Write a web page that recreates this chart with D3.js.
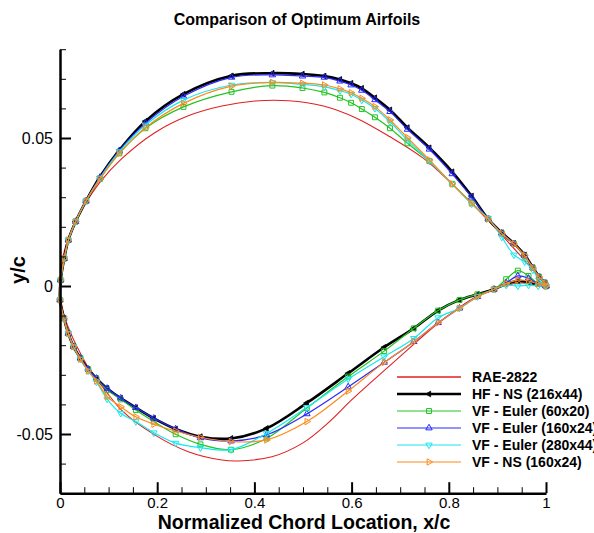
<!DOCTYPE html>
<html><head><meta charset="utf-8">
<script src="https://cdn.jsdelivr.net/npm/d3@7"></script>
<style>
body{margin:0;background:#fff}
svg{display:block}
text{font-family:"Liberation Sans",Arial,Helvetica,sans-serif;fill:#000}
</style></head>
<body><svg id="c" width="594" height="533"></svg>
<script>
// ---------- data ----------
const xUpper = [0.0014,0.0088,0.0171,0.0323,0.0535,0.0823,0.122,0.176,0.254,0.353,0.437,0.499,0.544,0.576,0.599,0.621,0.648,0.679,0.715,0.760,0.807,0.847,0.881,0.909,0.934,0.956,0.973,0.986,0.998,1.0];
const xLower = [0.0,0.008,0.017,0.028,0.042,0.058,0.075,0.097,0.125,0.156,0.193,0.238,0.289,0.352,0.425,0.508,0.593,0.667,0.728,0.778,0.822,0.859,0.893,0.918,0.942,0.964,0.984,1.0];

const hfUpper   = [0.0020,0.0093,0.0155,0.0218,0.0287,0.0369,0.0459,0.0557,0.0648,0.0710,0.0719,0.0716,0.0709,0.0698,0.0685,0.0668,0.0636,0.0595,0.0535,0.0467,0.0386,0.0304,0.0227,0.0180,0.0144,0.0105,0.0062,0.0031,0.0011,0];
const hfLower   = [-0.0047,-0.0109,-0.0160,-0.0205,-0.0244,-0.0281,-0.0312,-0.0346,-0.0379,-0.0411,-0.0447,-0.0483,-0.0509,-0.0515,-0.0481,-0.0395,-0.0295,-0.0207,-0.0143,-0.0083,-0.0047,-0.0028,-0.0011,0.0007,0.0017,0.0013,0.0006,0];

const e60Upper  = [0.0020,0.0093,0.0155,0.0218,0.0287,0.0362,0.0448,0.0533,0.0605,0.0656,0.0677,0.0669,0.0654,0.0636,0.0619,0.0598,0.0570,0.0533,0.0482,0.0422,0.0345,0.0281,0.0226,0.0178,0.0142,0.0101,0.0061,0.0030,0.0010,0];
const e60Lower  = [-0.0047,-0.0109,-0.0160,-0.0205,-0.0244,-0.0282,-0.0314,-0.0351,-0.0383,-0.0419,-0.0458,-0.0501,-0.0535,-0.0553,-0.0515,-0.0412,-0.0306,-0.0220,-0.0143,-0.0083,-0.0047,-0.0028,-0.0011,0.0023,0.0052,0.0034,0.0007,0];

const e160Upper = [0.0020,0.0093,0.0155,0.0218,0.0287,0.0367,0.0457,0.0550,0.0641,0.0705,0.0713,0.0709,0.0705,0.0692,0.0679,0.0661,0.0629,0.0589,0.0529,0.0462,0.0379,0.0300,0.0226,0.0179,0.0142,0.0103,0.0061,0.0030,0.0010,0];
const e160Lower = [-0.0047,-0.0109,-0.0160,-0.0205,-0.0244,-0.0281,-0.0312,-0.0346,-0.0379,-0.0411,-0.0447,-0.0483,-0.0513,-0.0524,-0.0503,-0.0432,-0.0341,-0.0258,-0.0188,-0.0124,-0.0075,-0.0036,-0.0011,0.0010,0.0034,0.0026,0.0007,0];

const e280Upper = [0.0020,0.0093,0.0155,0.0218,0.0287,0.0365,0.0454,0.0544,0.0628,0.0679,0.0687,0.0681,0.0673,0.0660,0.0648,0.0628,0.0600,0.0555,0.0493,0.0422,0.0345,0.0277,0.0229,0.0165,0.0105,0.0082,0.0054,0.0020,0.0003,0];
const e280Lower = [-0.0047,-0.0109,-0.0160,-0.0205,-0.0247,-0.0287,-0.0324,-0.0382,-0.0430,-0.0458,-0.0496,-0.0531,-0.0546,-0.0553,-0.0498,-0.0410,-0.0314,-0.0239,-0.0177,-0.0107,-0.0075,-0.0036,-0.0011,0.0003,0.0000,0.0003,0.0000,0];

const ns160Upper = [0.0020,0.0093,0.0155,0.0218,0.0287,0.0362,0.0448,0.0535,0.0617,0.0675,0.0688,0.0685,0.0679,0.0666,0.0653,0.0634,0.0606,0.0561,0.0501,0.0426,0.0345,0.0279,0.0226,0.0178,0.0142,0.0103,0.0061,0.0030,0.0010,0];
const ns160Lower = [-0.0047,-0.0109,-0.0160,-0.0205,-0.0247,-0.0287,-0.0321,-0.0374,-0.0408,-0.0442,-0.0467,-0.0490,-0.0511,-0.0526,-0.0520,-0.0458,-0.0355,-0.0258,-0.0188,-0.0124,-0.0075,-0.0036,-0.0011,0.0008,0.0020,0.0017,0.0007,0];

const raeXUpper = [0,0.002,0.005,0.01,0.02,0.035,0.05,0.082,0.127,0.195,0.264,0.333,0.401,0.470,0.542,0.610,0.679,0.748,0.802,0.847,0.9,0.95,1.0];
const raeYUpper = [0,0.0055,0.0088,0.0125,0.0175,0.0226,0.0272,0.0350,0.0430,0.0518,0.0575,0.0608,0.0625,0.0626,0.0608,0.0567,0.0504,0.0431,0.0352,0.0279,0.0188,0.0098,0.0006];
const raeXLower = [0,0.002,0.005,0.01,0.02,0.035,0.058,0.093,0.127,0.195,0.264,0.333,0.367,0.436,0.5,0.55,0.6,0.645,0.7,0.778,0.85,0.9,0.95,1.0];
const raeYLower = [0,-0.0048,-0.0075,-0.0108,-0.0152,-0.0205,-0.0275,-0.0352,-0.0420,-0.0503,-0.0560,-0.0588,-0.0591,-0.0577,-0.0530,-0.0465,-0.0385,-0.0318,-0.0238,-0.0126,-0.0042,-0.0005,0.0010,-0.0006];

const seriesNames = ["RAE-2822","HF - NS (216x44)","VF - Euler (60x20)","VF - Euler (160x24)","VF - Euler (280x44)","VF - NS (160x24)"];
const xMajorTicks = [0,0.2,0.4,0.6,0.8,1];
const xTickLabels = ["0","0.2","0.4","0.6","0.8","1"];
const xMinorTicks = [0.05,0.1,0.15,0.25,0.3,0.35,0.45,0.5,0.55,0.65,0.7,0.75,0.85,0.9,0.95];
const yMajorTicks = [-0.05,0,0.05];
const yTickLabels = ["-0.05","0","0.05"];
const yMinorTicks = [-0.07,-0.06,-0.04,-0.03,-0.02,-0.01,0.01,0.02,0.03,0.04,0.06,0.07,0.08];

// ---------- chart ----------
const svg = d3.select("#c");
const x = d3.scaleLinear().domain([0,1]).range([60,546]);
const y = d3.scaleLinear().domain([-0.07,0.08]).range([493.2,49.2]);

svg.append("text").attr("x",297).attr("y",25).attr("text-anchor","middle")
  .style("font-weight","bold").style("font-size","16px").text("Comparison of Optimum Airfoils");

const styles = [
  {color:"#e02020", width:1.1, sym:null},
  {color:"#000000", width:2.6, sym:"left", fill:true},
  {color:"#22c422", width:1.2, sym:"square"},
  {color:"#2a2aff", width:1.2, sym:"up"},
  {color:"#18e8f0", width:1.2, sym:"down"},
  {color:"#ff8a1a", width:1.2, sym:"right"}
];

function pts(xu,yu,xl,yl){
  const up = xu.map((v,i)=>[v,yu[i]]).reverse();
  const lo = xl.map((v,i)=>[v,yl[i]]);
  return {line: up.concat(lo), marks: up.concat(lo)};
}
const seriesData = [
  pts(raeXUpper,raeYUpper,raeXLower,raeYLower),
  pts(xUpper,hfUpper,xLower,hfLower),
  pts(xUpper,e60Upper,xLower,e60Lower),
  pts(xUpper,e160Upper,xLower,e160Lower),
  pts(xUpper,e280Upper,xLower,e280Lower),
  pts(xUpper,ns160Upper,xLower,ns160Lower)
];

const line = d3.line().x(d=>x(d[0])).y(d=>y(d[1])).curve(d3.curveCatmullRom.alpha(0.5));

function symbolPath(kind){
  if(kind==="square") return d3.symbol(d3.symbolSquare, 24)();
  return d3.symbol(d3.symbolTriangle, kind==="left"?14:18)();
}
const rot = {up:0,down:180,right:90,left:-90,square:0};

function drawMarker(g, kind, st, cx, cy){
  g.append("path").attr("d", symbolPath(kind))
    .attr("transform",`translate(${cx},${cy}) rotate(${rot[kind]})`)
    .attr("fill", st.fill ? st.color : "none")
    .attr("stroke", st.color).attr("stroke-width", st.fill?0.8:1);
}

seriesData.forEach((sd,i)=>{
  const st = styles[i];
  const g = svg.append("g");
  g.append("path").attr("d", line(sd.line)).attr("fill","none")
    .attr("stroke", st.color).attr("stroke-width", st.width).attr("stroke-linejoin","round");
  if(st.sym){
    sd.marks.forEach(d=>drawMarker(g, st.sym, st, x(d[0]), y(d[1])));
  }
});

// axes
const fmtX = d => xTickLabels[xMajorTicks.indexOf(d)];
const fmtY = d => yTickLabels[yMajorTicks.indexOf(d)];

const gx = svg.append("g").attr("transform","translate(0,493.2)");
gx.call(d3.axisBottom(x).tickValues(xMinorTicks).tickSize(-6).tickSizeOuter(0).tickFormat(""));
gx.selectAll(".tick line").attr("stroke-width",1);
gx.select(".domain").remove();
const gx2 = svg.append("g").attr("transform","translate(0,493.2)");
gx2.call(d3.axisBottom(x).tickValues(xMajorTicks).tickSize(-11).tickSizeOuter(0).tickPadding(4).tickFormat(fmtX));
gx2.selectAll(".tick line").attr("stroke-width",2);
gx2.selectAll("text").style("font-size","15px").attr("fill","#000");
gx2.select(".domain").attr("stroke-width",2.5);

const gy = svg.append("g").attr("transform","translate(60,0)");
gy.call(d3.axisLeft(y).tickValues(yMinorTicks).tickSize(-6).tickSizeOuter(0).tickFormat(""));
gy.selectAll(".tick line").attr("stroke-width",1);
gy.select(".domain").remove();
const gy2 = svg.append("g").attr("transform","translate(60,0)");
gy2.call(d3.axisLeft(y).tickValues(yMajorTicks).tickSize(-11).tickSizeOuter(0).tickPadding(7).tickFormat(fmtY));
gy2.selectAll(".tick line").attr("stroke-width",2);
gy2.selectAll("text").style("font-size","16px").attr("fill","#000");
gy2.select(".domain").attr("stroke-width",2.5);

// axis titles
svg.append("text").attr("x",304).attr("y",529).attr("text-anchor","middle")
  .style("font-weight","bold").style("font-size","19.5px").text("Normalized Chord Location, x/c");
svg.append("text").attr("transform","translate(25,270) rotate(-90)").attr("text-anchor","middle")
  .style("font-weight","bold").style("font-size","20px").text("y/c");

// legend
const lg = svg.append("g");
seriesNames.forEach((name,i)=>{
  const st = styles[i];
  const ry = 377 + i*17;
  lg.append("line").attr("x1",397).attr("x2",461).attr("y1",ry).attr("y2",ry)
    .attr("stroke",st.color).attr("stroke-width", i===1?2.6:(i===0?1.6:1.2));
  if(st.sym) drawMarker(lg, st.sym, st, 429, ry);
  lg.append("text").attr("x",472).attr("y",ry).attr("dy","0.36em")
    .style("font-weight","bold").style("font-size","14px").text(name);
});
</script></body></html>
